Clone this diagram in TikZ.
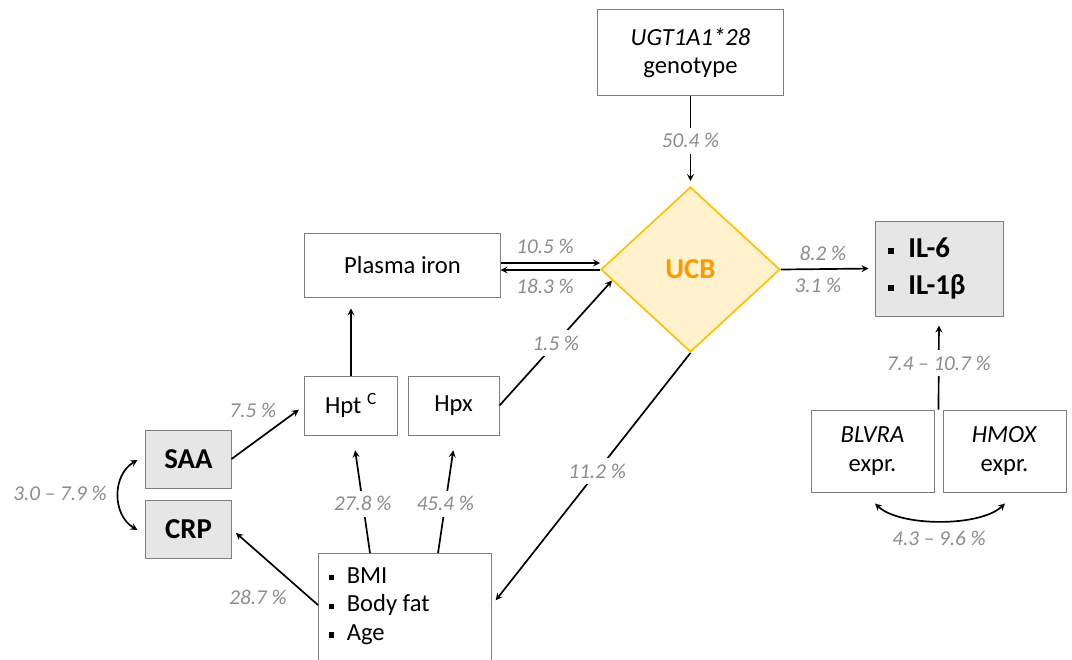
\documentclass[tikz,border=0pt]{standalone}
\usepackage{fontspec}
\setmainfont{Carlito}
\usetikzlibrary{calc,shapes.geometric}
\tikzset{>=stealth}
\definecolor{boxgray}{RGB}{231,230,230}
\definecolor{edgegray}{RGB}{127,127,127}
\definecolor{lblgray}{RGB}{140,140,140}
\definecolor{ucbfill}{RGB}{255,242,204}
\definecolor{ucbedge}{RGB}{255,192,0}
\definecolor{ucbtext}{RGB}{255,153,0}
\newcommand{\sqbul}{\rule[0.13em]{0.21em}{0.21em}\hspace{0.5em}}
\tikzset{
  box/.style={draw=edgegray,line width=0.7pt,inner sep=0pt,align=center,font=\fontsize{17.5}{20}\selectfont},
  greybox/.style={box,fill=boxgray,font=\fontsize{20.5}{26}\selectfont\bfseries},
  pct/.style={text=lblgray,font=\fontsize{15}{17}\selectfont\itshape,inner sep=2pt},
  cut/.style={pct,fill=white,inner sep=4pt},
  link/.style={line width=1.2pt}
}

\begin{document}
\begin{tikzpicture}[x=0.025cm,y=-0.025cm]
    \useasboundingbox (0,0) rectangle (1072,659);
    \clip (0,0) rectangle (1072,659);
    % boxes
    \node[box,minimum width=4.65cm,minimum height=2.125cm] (ugt) at (690.5,52.5) {\textit{UGT1A1*28}\\genotype};
    \node[diamond,draw=ucbedge,fill=ucbfill,line width=1.2pt,minimum width=4.475cm,minimum height=4.125cm,inner sep=0pt,
      text=ucbtext,font=\fontsize{20.5}{24}\selectfont\bfseries] (ucb) at (690.5,269.5) {UCB};
    \node[box,minimum width=4.875cm,minimum height=1.6cm] (iron) at (402.5,265) {Plasma iron};
    \node[box,minimum width=2.3cm,minimum height=1.475cm] (hpt) at (351,405.5) {Hpt \textsuperscript{C}};
    \node[box,minimum width=2.275cm,minimum height=1.475cm] (hpx) at (453.5,405.5) {Hpx};
    \node[greybox,minimum width=2.125cm,minimum height=1.45cm] (saa) at (188.5,459) {SAA};
    \node[greybox,minimum width=2.125cm,minimum height=1.45cm] (crp) at (188.5,529) {CRP};
    \node[box,anchor=north west,minimum width=4.325cm,minimum height=3cm] (bmi) at (318,553) {};
    \node[anchor=north west,align=left,inner sep=0pt,font=\fontsize{17.5}{20.5}\selectfont] (bmitxt) at (329,567)
      {\sqbul BMI\\\sqbul Body fat\\\sqbul Age};
    \node[greybox,minimum width=3.2cm,minimum height=2.375cm,inner xsep=0.325cm,text width=2.55cm,align=left] (il) at (939,268.5)
      {\sqbul IL-6\\\sqbul IL-1β};
    \node[box,minimum width=3.075cm,minimum height=2.05cm,font=\fontsize{17.5}{21}\selectfont] (blvra) at (872.5,451) {\textit{BLVRA}\\expr.};
    \node[box,minimum width=3.075cm,minimum height=2.05cm,font=\fontsize{17.5}{21}\selectfont] (hmox) at (1004.5,451) {\textit{HMOX}\\expr.};

    % connectors
    \draw[link,->,shorten >=0.125cm] (ugt.south) -- node[cut]{50.4 \%} (ucb.north);
    \draw[link,->] ([yshift=0.05cm]iron.east) -- ([yshift=0.05cm]iron.east -| ucb.west);
    \draw[link,<-] ([yshift=-0.125cm]iron.east) -- ([yshift=-0.125cm]iron.east -| ucb.west);
    \node[pct] (l105) at (545,246) {10.5 \%};
    \node[pct] (l183) at (545,286) {18.3 \%};
    \draw[link,->,shorten >=0.27cm] (hpt.north) -- (hpt.north |- iron.south);
    \draw[link,->] (hpx.east) -- node[cut]{1.5 \%} (ucb.188);
    \draw[link,->,shorten >=0.175cm] (saa.east) -- (hpt.west);
    \node[pct] (l75) at (253,410) {7.5 \%};
    \draw[link,->,shorten >=0.375cm] ($(bmi.north west)+(52,0)$) -- node[cut,pos=0.42]{27.8 \%} ($(hpt.south)+(2,0)$);
    \draw[link,->,shorten >=0.375cm] ($(bmi.north east)+(-54,0)$) -- node[cut,pos=0.42]{45.4 \%} ($(hpx.south)+(2,0)$);
    \draw[link,->,shorten >=0.15cm] ($(bmi.north west)+(0,52)$) -- (crp.east);
    \node[pct] (l287) at (258,597) {28.7 \%};
    \draw[link,->,shorten >=0.15cm] (ucb.south) -- node[cut,pos=0.47]{11.2 \%} ($(bmi.north east)+(0,52)$);
    \draw[link,->,shorten >=0.15cm] (ucb.east) -- (il.west);
    \node[pct] (l82) at (823,253) {8.2 \%};
    \node[pct] (l31) at (818,285) {3.1 \%};
    \draw[link,->,shorten >=0.225cm] ($(blvra.north east)!0.5!(hmox.north west)$) -- node[cut]{7.4 -- 10.7 \%} (il.south);
    \draw[link,<->] ($(saa.west)+(-8,1)$) .. controls (112,475) and (112,515) .. ($(crp.west)+(-8,1)$);
    \node[pct] (l3079) at (60,493) {3.0 -- 7.9 \%};
    \draw[link,<->] ($(blvra.south)+(2.5,11)$) .. controls (900,527) and (980,527) .. ($(hmox.south)+(0.5,11)$);
    \node[pct] (l4396) at (939,538) {4.3 -- 9.6 \%};
\end{tikzpicture}
\end{document}
